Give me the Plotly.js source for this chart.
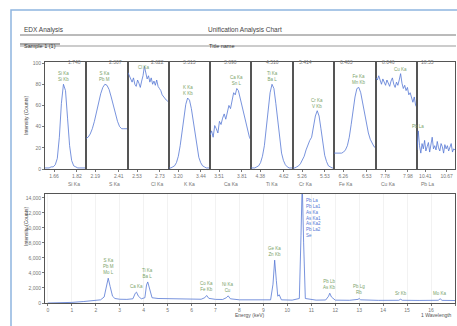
<!DOCTYPE html>
<html><head><meta charset="utf-8">
<script src="https://cdn.plot.ly/plotly-3.0.1.min.js"></script>
<style>html,body{margin:0;padding:0;background:#fff;}#chart{width:457px;height:326px;}</style>
</head><body><div id="chart"></div>
<script>
// ---------- DATA ----------
const headerLeft = "EDX Analysis";
const headerTitle = "Unification Analysis Chart";
const sampleName = "Sample 1 (1)";
const titleName = "Title name";

const panelElements = ["Si Ka","S Ka","Cl Ka","K Ka","Ca Ka","Ti Ka","Cr Ka","Fe Ka","Cu Ka","Pb La"];
const panelTopLabels = ["1.740","2.307","2.622","3.313","3.690","4.510","5.414","6.403","8.046","10.55"];
const panelStart = [1.60, 2.10, 2.45, 3.10, 3.40, 4.28, 5.15, 6.15, 7.70, 10.30];
const panelStep  = [0.014, 0.02, 0.012, 0.02, 0.02, 0.02, 0.022, 0.022, 0.012, 0.016];

const p1 = [1,1,1,2,2,4,10,30,62,80,74,48,22,8,3,2,1,1,1,1,1];
const p2 = [29,30,33,38,45,54,63,71,77,80,79,75,68,60,52,45,40,38,38,38,38];
const p3 = [91,88,85,82,86,80,78,84,81,77,83,88,97,90,85,88,82,86,80,83,79,84,78,76,74,70,68,66,65,64,63];
const p4 = [1,1,2,3,6,12,22,36,50,61,67,65,57,45,32,20,11,6,3,2,1,1,1];
const p5 = [32,36,30,41,38,34,45,42,48,52,47,55,60,57,66,72,70,76,74,68,62,55,48,42,36,30,27];
const p6 = [1,1,1,2,3,6,12,22,38,56,72,80,76,62,44,28,15,8,4,2,1,1,1];
const p7 = [1,1,2,3,5,8,12,18,23,27,30,40,50,55,50,38,24,13,7,3,2,1,1];
const p8 = [15,15,15,15,15,16,18,22,30,42,56,68,76,77,72,63,52,42,34,28,24,21,20];
const p9 = [86,84,88,83,80,85,82,79,84,81,78,83,86,80,77,82,79,84,90,81,76,79,74,77,70,72,66,63,68,60,58];
const p10 = [18,36,22,15,24,19,27,17,21,25,16,23,30,19,22,18,26,20,17,24,21,15,23,19,22,17,20,24,16,19,18];
const panelValues = [p1,p2,p3,p4,p5,p6,p7,p8,p9,p10];
const panelPeakNames = ["Si Ka<br>Si Kb","S Ka<br>Pb M","Cl Ka","K Ka<br>K Kb","Ca Ka<br>Sn L","Ti Ka<br>Ba L","Cr Ka<br>V Kb","Fe Ka<br>Mn Kb","Cu Ka","Pb La"];

const energy = [0.0,0.5,1.0,1.5,2.0,2.2,2.35,2.45,2.52,2.6,2.7,2.8,3.0,3.3,3.55,3.65,3.7,3.78,3.9,4.05,4.12,4.17,4.23,4.35,4.6,5.0,5.5,6.0,6.4,6.55,6.63,6.72,7.0,7.3,7.45,7.53,7.62,8.0,8.5,9.0,9.3,9.4,9.47,9.54,9.6,9.66,9.75,10.2,10.5,10.57,10.62,10.68,10.75,11.2,11.6,11.72,11.77,11.84,12.0,12.6,12.95,13.0,13.06,13.8,14.65,14.73,14.8,15.5,16.3,16.38,16.46,17.0];
const counts = [0,20,80,200,350,420,800,2600,3300,2200,900,600,500,480,560,1300,1450,900,560,700,2400,2800,2000,700,600,560,540,520,500,700,1000,620,480,470,700,950,560,420,400,380,420,2500,5700,3000,900,1100,420,380,600,9000,16000,8000,600,380,400,900,1300,800,380,360,480,600,420,350,360,500,360,340,360,560,350,330];
const spectrumPeakE = [2.52,3.7,4.17,6.63,7.53,9.47,11.77,13.0,14.73,16.38];
const spectrumPeakNames = ["S Ka<br>Pb M<br>Mo L","Ca Ka","Ti Ka<br>Ba L","Co Ka<br>Fe Kb","Ni Ka<br>Cu","Ge Ka<br>Zn Kb","Pb Lb<br>As Kb","Pb Lg<br>Rb","Sr Kb","Mo Ka"];
const mainPeakNames = "Pb La<br>Pb La1<br>As Ka<br>As Ka1<br>As Ka2<br>Pb La2<br>Se";

// ---------- LAYOUT ----------
const W = 457, H = 326;
const fx = p => p / W, fy = p => 1 - p / H;
const edges = [45,86,128,169,210,251,293,334,376,417,455];
const smallTop = 62, smallBot = 169;
const bigTop = 194, bigBot = 303;
const blue = '#5577d4', green = '#7aa36a', txt = '#555';
const fnt = 'Liberation Sans, Arial, sans-serif';

const traces = [];
const layout = {
  width: W, height: H, margin: {l:0,r:0,t:0,b:0},
  paper_bgcolor: '#fff', plot_bgcolor: '#fff', showlegend: false,
  font: {family: fnt, size: 5, color: txt},
  annotations: [], shapes: []
};

panelValues.forEach((vals, i) => {
  const n = i + 1;
  traces.push({type:'scatter', mode:'lines', x0: panelStart[i], dx: panelStep[i], y: vals,
    xaxis: 'x'+n, yaxis: 'y'+n, line: {color: blue, width: 0.8}, hoverinfo:'none'});
  const xmin = panelStart[i], xmax = panelStart[i] + panelStep[i]*(vals.length-1);
  const w = xmax - xmin;
  layout['xaxis'+n] = {domain: [fx(edges[i]), fx(edges[i+1])], anchor: 'y'+n, range: [xmin, xmax],
    showline: true, mirror: true, linecolor: '#555', linewidth: 1, showgrid: false, zeroline: false,
    ticks: 'outside', ticklen: 2, tickcolor: '#777', tickfont: {size: 5, color: '#777'},
    tickvals: [xmin + 0.22*w, xmin + 0.78*w], tickformat: '.2f'};
  layout['yaxis'+n] = {domain: [fy(smallBot), fy(smallTop)], anchor: 'x'+n, range: [0, 101],
    showline: true, mirror: true, linecolor: '#555', linewidth: 1, showgrid: false, zeroline: false,
    ticks: i === 0 ? 'outside' : '', ticklen: 2, tickcolor: '#777', dtick: 20,
    showticklabels: i === 0, tickfont: {size: 5, color: '#777'}};
  const cx = fx((edges[i]+edges[i+1])/2);
  layout.annotations.push({xref:'paper', yref:'paper', x: cx, y: fy(57), text: panelTopLabels[i],
    showarrow:false, font:{size:5, color:'#777'}});
  layout.annotations.push({xref:'paper', yref:'paper', x: cx, y: fy(184), text: panelElements[i],
    showarrow:false, font:{size:5, color:'#777'}});
  let k = 0; vals.forEach((v, j) => { if (v > vals[k]) k = j; });
  layout.annotations.push({xref:'x'+n, yref:'y'+n, x: xmin + k*panelStep[i], y: Math.min(vals[k], 92),
    yanchor:'bottom', text: panelPeakNames[i], showarrow:false, font:{size:4.5, color: green}});
});

traces.push({type:'scatter', mode:'lines', x: energy, y: counts, xaxis:'x11', yaxis:'y11',
  line:{color: blue, width: 0.8}, hoverinfo:'none'});
const yTop = 14500;
layout.xaxis11 = {domain:[fx(45), fx(455)], anchor:'y11', range:[-0.12, 17], dtick: 1,
  showline:true, mirror:true, linecolor:'#555', linewidth:1, showgrid:true, gridcolor:'#f2f2f2', zeroline:false,
  ticks:'outside', ticklen:2, tickcolor:'#777', tickfont:{size:5, color:'#777'}};
layout.yaxis11 = {domain:[fy(bigBot), fy(bigTop)], anchor:'x11', range:[0, yTop], dtick: 2000,
  showline:true, mirror:true, linecolor:'#555', linewidth:1, showgrid:false, zeroline:false,
  ticks:'outside', ticklen:2, tickcolor:'#777', tickfont:{size:5, color:'#777'}, tickformat:','};

spectrumPeakE.forEach((e, i) => {
  let k = 0, best = -1;
  energy.forEach((x, j) => { if (Math.abs(x - e) < 0.1 && counts[j] > best) { best = counts[j]; k = j; } });
  layout.annotations.push({xref:'x11', yref:'y11', x: energy[k], y: counts[k] + 150, yanchor:'bottom',
    text: spectrumPeakNames[i], showarrow:false, font:{size:4.5, color: green}});
});
let mk = 0; counts.forEach((v, j) => { if (v > counts[mk]) mk = j; });
layout.annotations.push({xref:'x11', yref:'y11', x: energy[mk] + 0.08, y: yTop*0.98, xanchor:'left', yanchor:'top',
  text: mainPeakNames, showarrow:false, align:'left', font:{size:4.5, color: blue}});

layout.annotations.push(
  {xref:'paper', yref:'paper', x: fx(21), y: fy(115), text:'Intensity (Counts)', textangle:-90, showarrow:false, font:{size:5, color:'#444'}},
  {xref:'paper', yref:'paper', x: fx(21), y: fy(248), text:'Intensity (Counts)', textangle:-90, showarrow:false, font:{size:5, color:'#444'}},
  {xref:'paper', yref:'paper', x: fx(250), y: fy(319.5), text:'Energy (keV)', showarrow:false, font:{size:5, color:'#555'}},
  {xref:'paper', yref:'paper', x: fx(454), y: fy(320), xanchor:'right', text:'1 Wavelength', showarrow:false, font:{size:5, color:'#555'}},
  {xref:'paper', yref:'paper', x: fx(22), y: fy(24), xanchor:'left', text: headerLeft, showarrow:false, font:{size:6.5, color:'#444'}},
  {xref:'paper', yref:'paper', x: fx(245), y: fy(24), text: headerTitle, showarrow:false, font:{size:6.5, color:'#444'}},
  {xref:'paper', yref:'paper', x: fx(22), y: fy(41), xanchor:'left', text: sampleName, showarrow:false, font:{size:5.5, color:'#333'}},
  {xref:'paper', yref:'paper', x: fx(207), y: fy(41), xanchor:'left', text: titleName, showarrow:false, font:{size:5.5, color:'#333'}}
);

layout.shapes.push(
  {type:'rect', xref:'paper', yref:'paper', x0: fx(11), x1: fx(458), y0: fy(330), y1: fy(10), line:{color:'#8fb5e0', width:1.5}},
  {type:'line', xref:'paper', yref:'paper', x0: fx(20), x1: fx(456), y0: fy(35), y1: fy(35), line:{color:'#777', width:1}},
  {type:'line', xref:'paper', yref:'paper', x0: fx(20), x1: fx(456), y0: fy(46), y1: fy(46), line:{color:'#999', width:1}},
  {type:'line', xref:'paper', yref:'paper', x0: fx(20), x1: fx(60), y0: fy(44), y1: fy(44), line:{color:'#555', width:1}}
);

Plotly.newPlot('chart', traces, layout, {staticPlot: true, displayModeBar: false});
</script></body></html>
